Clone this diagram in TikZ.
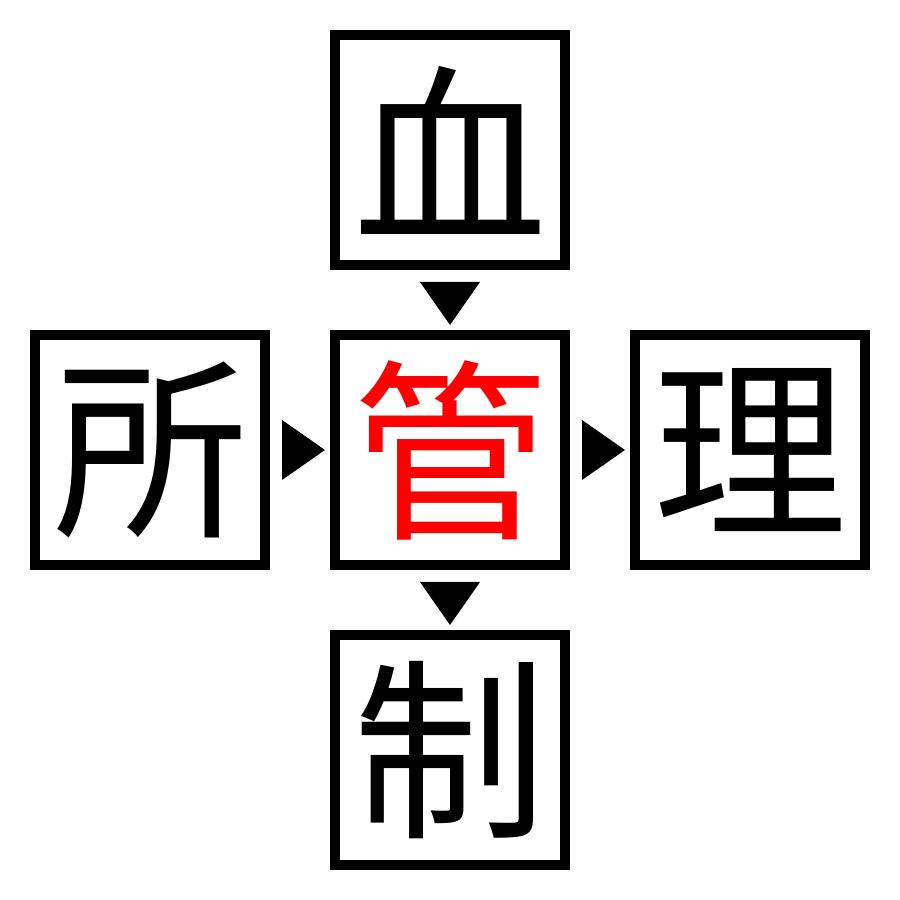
\documentclass[tikz,border=0pt]{standalone}
\usepackage{fontspec}
\newfontfamily\cjk{Noto Sans CJK JP}
\usetikzlibrary{calc}
\tikzset{
  charbox/.style={draw=black, line width=10pt, minimum size=230pt, inner sep=0pt, outer sep=0pt, font=\cjk\fontsize{194pt}{194pt}\selectfont},
  tri/.style={fill=black, draw=none}
}
\begin{document}
\begin{tikzpicture}[x=1pt,y=1pt]
\useasboundingbox (0,0) rectangle (900,900);
\node[charbox] (top) at (450,750) {血};
\node[charbox] (left) at (150,450) {所};
\node[charbox, text=red] (mid) at (450,450) {管};
\node[charbox] (right) at (750,450) {理};
\node[charbox] (bot) at (450,150) {制};
% arrow triangles
\fill[tri] ($(top.south)+(-30,-17)$) -- ($(top.south)+(30,-17)$) -- ($(top.south)+(0,-60)$) -- cycle;
\fill[tri] ($(mid.south)+(-30,-17)$) -- ($(mid.south)+(30,-17)$) -- ($(mid.south)+(0,-60)$) -- cycle;
\fill[tri] ($(left.east)+(17,30)$) -- ($(left.east)+(17,-30)$) -- ($(left.east)+(60,0)$) -- cycle;
\fill[tri] ($(mid.east)+(17,30)$) -- ($(mid.east)+(17,-30)$) -- ($(mid.east)+(60,0)$) -- cycle;
\end{tikzpicture}
\end{document}
